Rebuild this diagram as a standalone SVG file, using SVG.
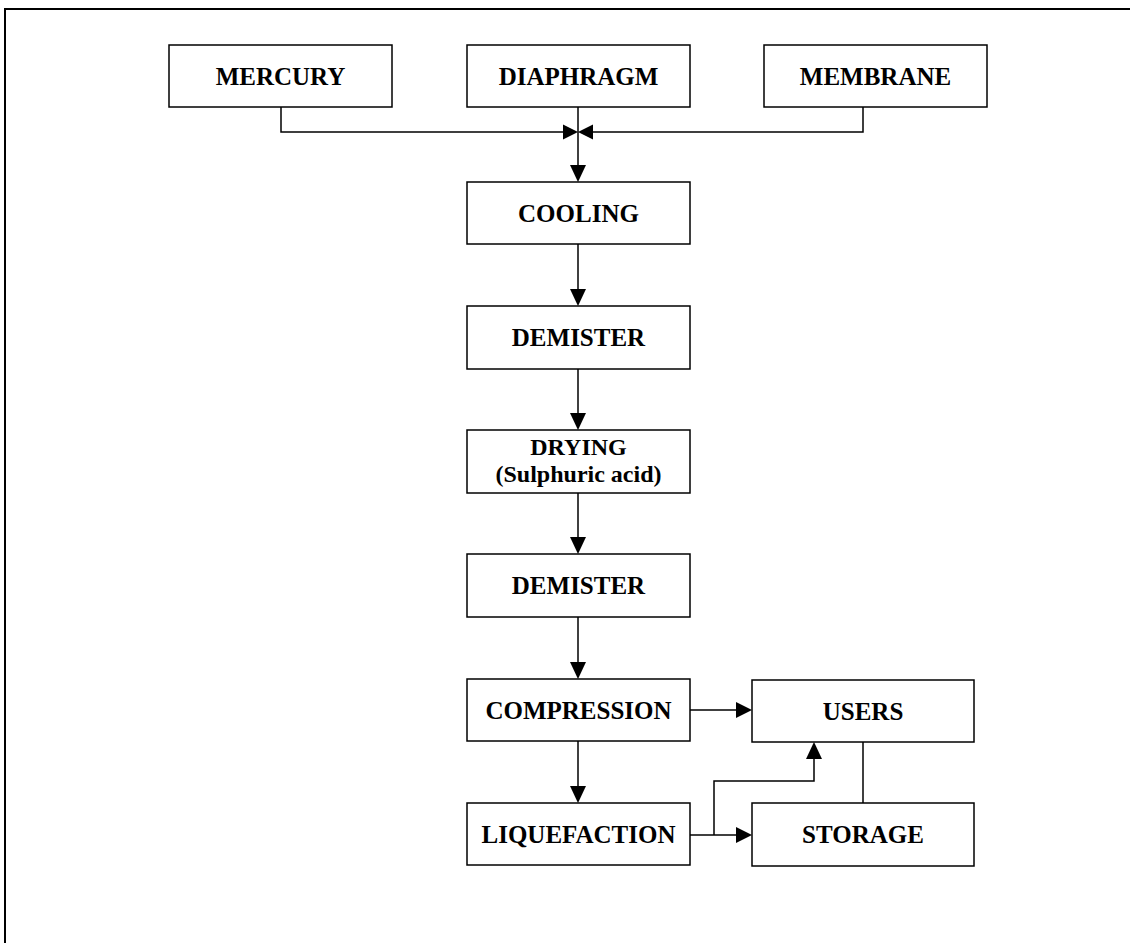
<svg xmlns="http://www.w3.org/2000/svg" width="1130" height="943" viewBox="0 0 1130 943">
<style>
.box{fill:#fff;stroke:#000;stroke-width:1.5}
.lbl{font-family:"Liberation Serif","Times New Roman",serif;font-weight:bold;font-size:25px;fill:#000;text-anchor:middle}
.ln{fill:none;stroke:#000;stroke-width:1.5}
.ah{fill:#000;stroke:none}
</style>
<rect width="1130" height="943" fill="#fff"/>
<path d="M5,943 V9 H1130" fill="none" stroke="#000" stroke-width="2"/>
<g id="mercury"><rect class="box" x="169" y="45" width="223" height="62"/><text class="lbl" x="280.5" y="85">MERCURY</text></g>
<g id="diaphragm"><rect class="box" x="467" y="45" width="223" height="62"/><text class="lbl" x="578.5" y="85">DIAPHRAGM</text></g>
<g id="membrane"><rect class="box" x="764" y="45" width="223" height="62"/><text class="lbl" x="875.5" y="85">MEMBRANE</text></g>
<g id="cooling"><rect class="box" x="467" y="182" width="223" height="62"/><text class="lbl" x="578.5" y="222">COOLING</text></g>
<g id="demister1"><rect class="box" x="467" y="306" width="223" height="63"/><text class="lbl" x="578.5" y="346">DEMISTER</text></g>
<g id="drying"><rect class="box" x="467" y="430" width="223" height="63"/><text class="lbl" x="578.5" y="455" style="font-size:24px">DRYING</text><text class="lbl" x="578.5" y="482" style="font-size:24px">(Sulphuric acid)</text></g>
<g id="demister2"><rect class="box" x="467" y="554" width="223" height="63"/><text class="lbl" x="578.5" y="594">DEMISTER</text></g>
<g id="compression"><rect class="box" x="467" y="679" width="223" height="62"/><text class="lbl" x="578.5" y="719">COMPRESSION</text></g>
<g id="liquefaction"><rect class="box" x="467" y="803" width="223" height="62"/><text class="lbl" x="578.5" y="843">LIQUEFACTION</text></g>
<g id="users"><rect class="box" x="752" y="680" width="222" height="62"/><text class="lbl" x="863" y="720">USERS</text></g>
<g id="storage"><rect class="box" x="752" y="803" width="222" height="63"/><text class="lbl" x="863" y="843">STORAGE</text></g>
<g id="connectors">
<path class="ln" d="M281,107 V132 H563"/>
<path class="ah" d="M563,124.5 L578,132 L563,139.5 Z"/>
<path class="ln" d="M863,107 V132 H593"/>
<path class="ah" d="M593,124.5 L578,132 L593,139.5 Z"/>
<path class="ln" d="M578,107 V166"/>
<path class="ah" d="M570,165 L578,182 L586,165 Z"/>
<path class="ln" d="M578,244 V290"/>
<path class="ah" d="M570,289 L578,306 L586,289 Z"/>
<path class="ln" d="M578,369 V414"/>
<path class="ah" d="M570,413 L578,430 L586,413 Z"/>
<path class="ln" d="M578,493 V538"/>
<path class="ah" d="M570,537 L578,554 L586,537 Z"/>
<path class="ln" d="M578,617 V663"/>
<path class="ah" d="M570,662 L578,679 L586,662 Z"/>
<path class="ln" d="M578,741 V787"/>
<path class="ah" d="M570,786 L578,803 L586,786 Z"/>
<path class="ln" d="M690,710 H737"/>
<path class="ah" d="M736,702 L752,710 L736,718 Z"/>
<path class="ln" d="M690,835 H737"/>
<path class="ah" d="M736,827 L752,835 L736,843 Z"/>
<path class="ln" d="M714,835 V781 H814 V758"/>
<path class="ah" d="M806,759 L814,742 L822,759 Z"/>
<path class="ln" d="M863,742 V803"/>
</g>
</svg>
